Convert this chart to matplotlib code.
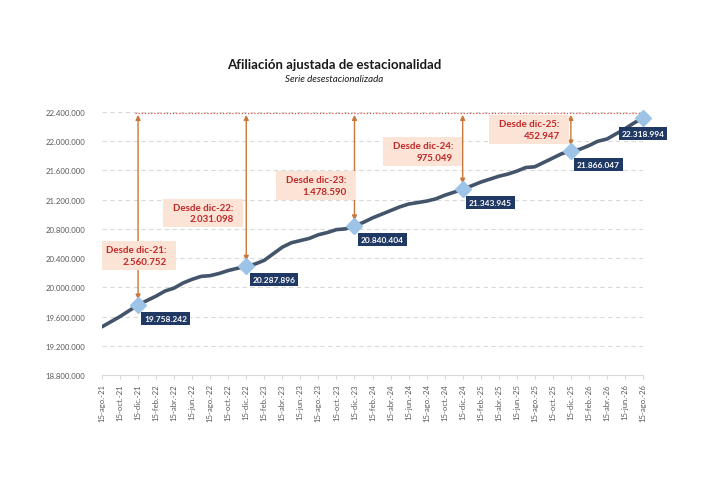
import matplotlib
matplotlib.use("Agg")
import matplotlib.pyplot as plt
from matplotlib.patches import Rectangle
from matplotlib.ticker import FuncFormatter

plt.rcParams["font.family"] = ["Lato", "DejaVu Sans"]

# serie mensual (dia 15), ago-21 .. ago-26
meses = ["ene", "feb", "mar", "abr", "may", "jun", "jul", "ago", "sep", "oct", "nov", "dic"]
fechas = []
m, a = 7, 21
for _ in range(61):
    fechas.append(f"15-{meses[m]}.-{a}")
    m += 1
    if m == 12:
        m, a = 0, a + 1

afiliados = [
    19460000, 19530000, 19600000, 19680000, 19758242,
    19820000, 19880000, 19950000, 19990000, 20060000, 20110000,
    20150000, 20160000, 20190000, 20230000, 20260000, 20287896,
    20320000, 20370000, 20460000, 20550000, 20610000, 20640000,
    20670000, 20720000, 20750000, 20790000, 20800000, 20840404,
    20890000, 20950000, 21000000, 21050000, 21100000, 21140000,
    21160000, 21180000, 21210000, 21260000, 21300000, 21343945,
    21390000, 21440000, 21480000, 21520000, 21550000, 21590000,
    21640000, 21650000, 21710000, 21770000, 21830000, 21866047,
    21890000, 21940000, 22000000, 22030000, 22100000, 22170000,
    22250000, 22318994,
]

# puntos destacados (diciembres y ultimo dato)
hitos = [4, 16, 28, 40, 52, 60]
hitos_nombre = ["dic-21", "dic-22", "dic-23", "dic-24", "dic-25", "ago-26"]

# centro de las cajas "Desde ..." (indice, valor)
cajas_pos = [(3.83, 20436000), (11.26, 21018000), (23.73, 21394000),
             (35.6, 21859000), (47.41, 22161000)]


def puntos(n):
    return f"{n:,.0f}".replace(",", ".")


x = list(range(len(afiliados)))
ultimo = afiliados[-1]

fig = plt.figure(figsize=(7.16, 4.81), dpi=100)
ax = fig.add_axes([102 / 716, 1 - 376 / 481, 541 / 716, 263 / 481])

ax.set_xlim(0, 60)
ax.set_ylim(18800000, 22400000)
ax.set_yticks([18800000 + 400000 * i for i in range(10)])
ax.yaxis.set_major_formatter(FuncFormatter(lambda v, p: puntos(v)))
ax.set_xticks(x[::2])
ax.set_xticklabels(fechas[::2], rotation=90)

ax.grid(axis="y", color="#D9D9D9", linestyle=(0, (4, 3)), linewidth=0.8)
ax.set_axisbelow(True)
for s in ["top", "right", "left"]:
    ax.spines[s].set_visible(False)
ax.spines["bottom"].set_color("#D9D9D9")
ax.tick_params(axis="y", length=0, labelsize=5.6, labelcolor="#595959", pad=12)
ax.tick_params(axis="x", length=3, color="#D9D9D9", labelsize=5.6,
               labelcolor="#595959", pad=3)

ax.plot(x, afiliados, color="#44546A", linewidth=2.6, zorder=3,
        solid_capstyle="round")

# linea de referencia en el ultimo dato
nivel = 22385000
ax.plot([hitos[0] - 0.3, hitos[-1]], [nivel, nivel], color="#E0504A",
        linestyle=(0, (1, 1.5)), linewidth=0.9, zorder=2, clip_on=False)

for i, nombre in zip(hitos, hitos_nombre):
    v = afiliados[i]
    ax.plot(i, v, marker="D", markersize=7.8, color="#9DC3E6",
            markeredgecolor="#9DC3E6", zorder=5, clip_on=False)
    if i == hitos[-1]:
        ax.annotate(puntos(v), (i, v), xytext=(0, -8.5), textcoords="offset points",
                    ha="center", va="top", fontsize=6, fontweight="bold",
                    color="white", zorder=6, annotation_clip=False,
                    bbox=dict(boxstyle="square,pad=0.35", fc="#203864", ec="none"))
        continue
    ax.annotate(puntos(v), (i, v), xytext=(4.5, -7), textcoords="offset points",
                ha="left", va="top", fontsize=6, fontweight="bold",
                color="white", zorder=6,
                bbox=dict(boxstyle="square,pad=0.35", fc="#203864", ec="none"))
    ax.annotate("", xy=(i, v + 75000), xytext=(i, nivel - 25000),
                arrowprops=dict(arrowstyle="<|-|>", color="#C8783A", lw=1.0,
                                mutation_scale=7, shrinkA=0, shrinkB=0),
                zorder=4)

textos = []
for (cx, cy), i, nombre in zip(cajas_pos, hitos[:-1], hitos_nombre[:-1]):
    texto = f"Desde {nombre}:\n{puntos(ultimo - afiliados[i])}"
    t = ax.text(cx, cy, texto, ha="center", va="center", multialignment="right",
                fontsize=7, fontweight="bold", color="#C0282A", linespacing=1.35,
                zorder=5)
    textos.append(t)

# fondo de las cajas: mas margen horizontal que vertical
fig.canvas.draw()
rend = fig.canvas.get_renderer()
inv = ax.transData.inverted()
for t in textos:
    bb = t.get_window_extent(rend)
    (x0, y0) = inv.transform((bb.x0 - 10, bb.y0 - 4))
    (x1, y1) = inv.transform((bb.x1 + 9, bb.y1 + 4))
    ax.add_patch(Rectangle((x0, y0), x1 - x0, y1 - y0, facecolor="#FBE3D5",
                           edgecolor="none", zorder=4))

fig.text(334 / 716, 1 - 65 / 481, "Afiliación ajustada de estacionalidad",
         ha="center", va="center", fontsize=9.5, fontweight="bold", color="#1a1a1a")
fig.text(334 / 716, 1 - 79 / 481, "Serie desestacionalizada", ha="center",
         va="center", fontsize=7, fontstyle="italic", color="#1a1a1a")

fig.savefig("out.png", dpi=100)
